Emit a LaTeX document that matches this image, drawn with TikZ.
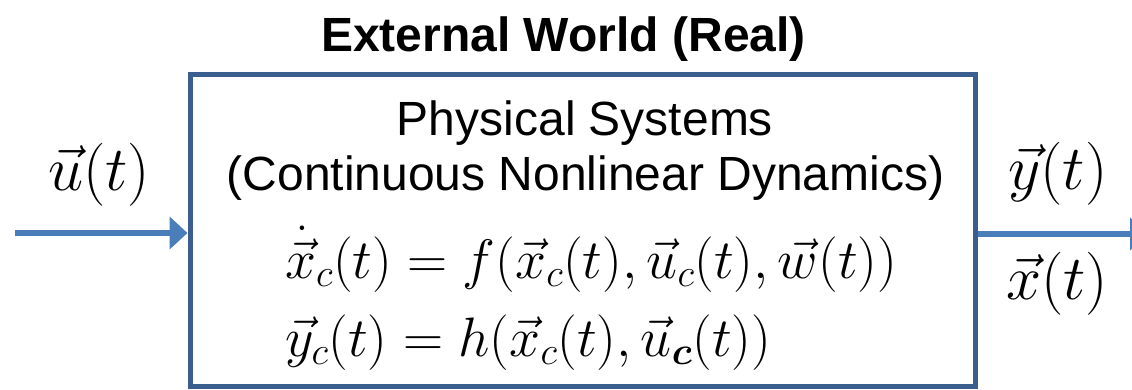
\RequirePackage{fix-cm}
\documentclass[tikz,border=0pt]{standalone}
\usepackage{amsmath}
\usepackage{fontspec}
\setmainfont{Liberation Sans}
\usetikzlibrary{arrows.meta}
\definecolor{boxblue}{HTML}{3A5F8E}
\definecolor{arrowblue}{HTML}{4A7EBB}
\tikzset{
  frame/.style={draw=boxblue, line width=5pt, minimum width=785pt, minimum height=311pt, inner sep=0pt},
  sig/.style={draw=arrowblue, line width=6pt},
  sigarrow/.style={sig, -{Triangle[length=18pt,width=32pt]}},
  txt/.style={anchor=base, inner sep=0pt, font=\fontsize{48}{58}\selectfont},
  ttl/.style={txt, font=\fontsize{48}{58}\selectfont\bfseries},
  eq/.style={anchor=base west, inner sep=0pt, font=\fontsize{55.6}{60}\selectfont},
  lbl/.style={anchor=base west, inner sep=0pt, font=\fontsize{63}{66}\selectfont}
}
\begin{document}
\begin{tikzpicture}[x=1pt,y=1pt]
\useasboundingbox (0,0) rectangle (1132,389);
\clip (0,0) rectangle (1132,389);
\node[ttl] (title) at (563.5,337) {External World (Real)};
\node[frame] (box) at (582.5,158.5) {};
\node[txt] (l1) at (585,254) {Physical Systems};
\node[txt] (l2) at (585.5,199) {(Continuous Nonlinear Dynamics)};
\node[eq] (e1) at (285,111) {$\dot{\vec{x}}_c(t) = f(\vec{x}_c(t), \vec{u}_c(t), \vec{w}(t))$};
\node[eq] (e2) at (285,33) {$\vec{y}_c(t) = h(\vec{x}_c(t), \vec{u}_{\boldsymbol{c}}(t))$};
\node[lbl] (u) at (48,199) {$\vec{u}(t)$};
\node[lbl] (y) at (1008,200) {$\vec{y}(t)$};
\node[lbl] (x) at (1006,90) {$\vec{x}(t)$};
\coordinate (in) at (15,156);
\coordinate (out) at (1148,155);
\draw[sigarrow] (in) -- (in -| box.west);
\draw[sigarrow] (box.east |- out) -- (out);
\end{tikzpicture}
\end{document}
